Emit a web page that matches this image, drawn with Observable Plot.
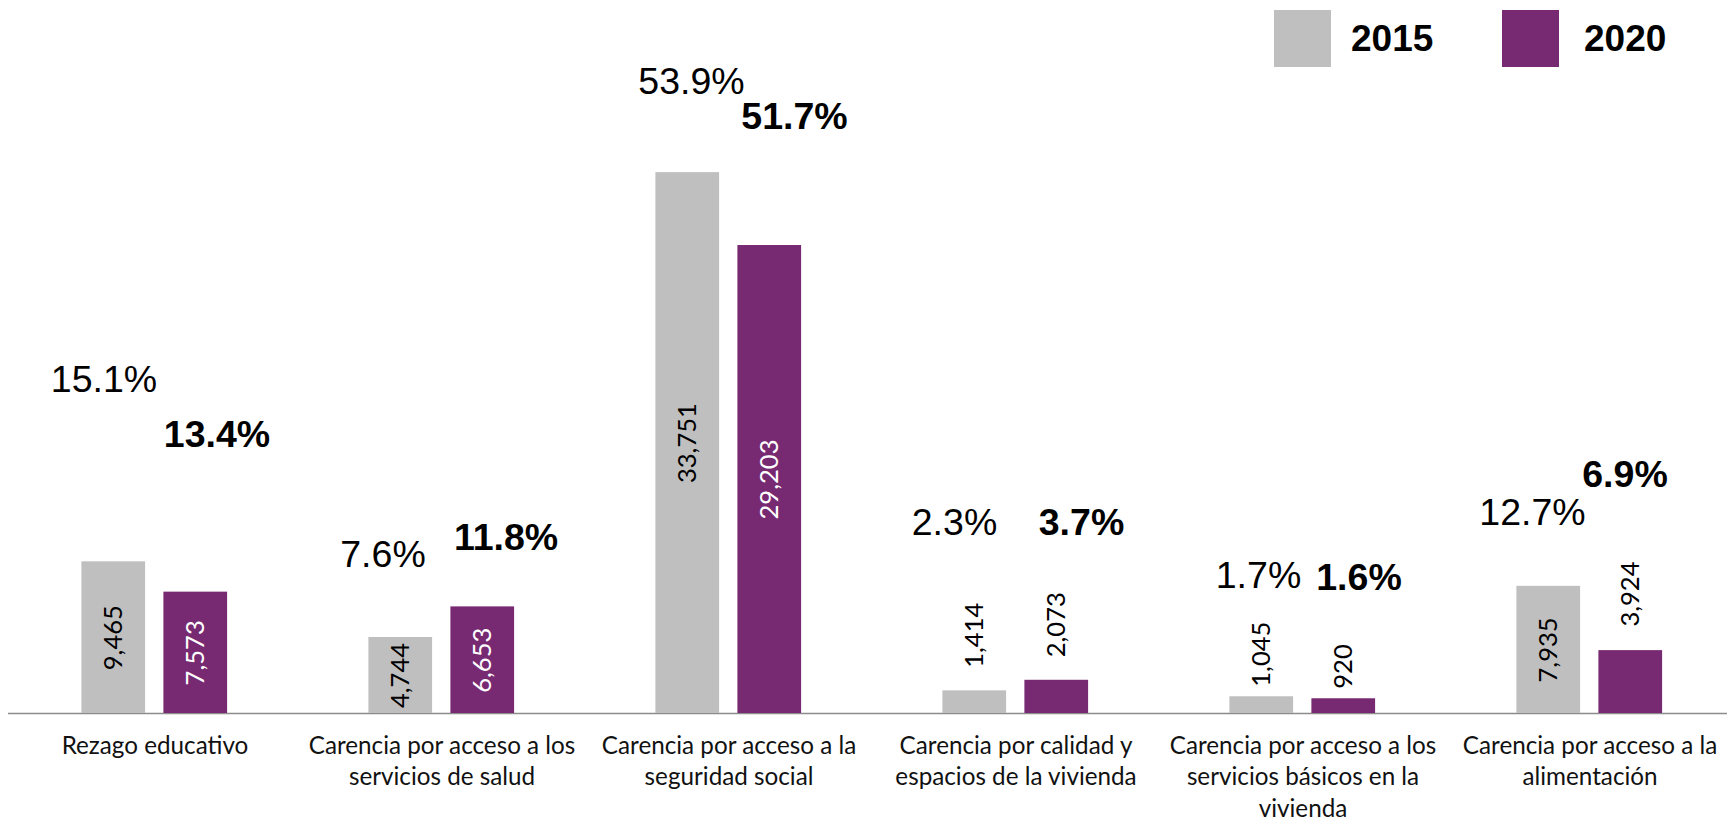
<!DOCTYPE html>
<html>
<head>
<meta charset="utf-8">
<script src="https://cdn.jsdelivr.net/npm/d3@7"></script>
<script src="https://cdn.jsdelivr.net/npm/@observablehq/plot@0.6"></script>
<style>
  html, body { margin: 0; padding: 0; background: white; overflow: hidden; }
  #wrap { position: relative; width: 1727px; height: 824px; }
  #legend { position: absolute; top: 10px; left: 0; width: 1727px; height: 57px; font-family: "Liberation Sans", Arial, sans-serif; font-weight: bold; font-size: 37px; color: #000; }
  #legend .sw { position: absolute; top: 0; width: 57px; height: 57px; }
  #legend .lb { position: absolute; top: 0; height: 57px; display: flex; align-items: center; line-height: 1; }
</style>
</head>
<body>
<div id="wrap">
  <div id="chart"></div>
  <div id="legend"></div>
</div>
<script>
// ---- data ----
const categories = [
  "Rezago educativo",
  "Carencia por acceso a los servicios de salud",
  "Carencia por acceso a la seguridad social",
  "Carencia por calidad y espacios de la vivienda",
  "Carencia por acceso a los servicios básicos en la vivienda",
  "Carencia por acceso a la alimentación"
];
const tickLabels = [
  "Rezago educativo",
  "Carencia por acceso a los\nservicios de salud",
  "Carencia por acceso a la\nseguridad social",
  "Carencia por calidad y\nespacios de la vivienda",
  "Carencia por acceso a los\nservicios básicos en la\nvivienda",
  "Carencia por acceso a la\nalimentación"
];
const years = ["2015", "2020"];
const values2015 = [9465, 4744, 33751, 1414, 1045, 7935];
const values2020 = [7573, 6653, 29203, 2073, 920, 3924];
const pct2015 = [15.1, 7.6, 53.9, 2.3, 1.7, 12.7];
const pct2020 = [13.4, 11.8, 51.7, 3.7, 1.6, 6.9];

// ---- layout / style (not data) ----
const colors = {"2015": "#bfbfbf", "2020": "#772a72"};
// manual placement of the percentage labels (pixel offset from bar top-centre)
const pctNudge2015 = [[-10, -170], [-18, -70], [3.5, -79], [-20.5, -156], [-3.5, -109], [-16.5, -61]];
const pctNudge2020 = [[21, -145], [23, -57], [24.5, -117], [24.5, -145], [15, -109], [-6, -164]];
const outsideGap = [23, 23, 23, 23, 10, 24];
const insideThreshold = 4500;
const subOffset = 41;

// font sizing by measurement
const ctx = document.createElement("canvas").getContext("2d");
function sizeFor(text, font, target) {
  ctx.font = `100px ${font}`;
  const w = ctx.measureText(text).width;
  return w > 0 ? 100 * target / w : 24;
}
const catFamily = "Lato, 'Open Sans', sans-serif";
const catSize = sizeFor("Carencia por acceso a la", catFamily, 255);
const valSize = sizeFor("33,751", catFamily, 80);
const pctFamily = "'Liberation Sans', Arial, sans-serif";

const rows = categories.flatMap((c, i) => [
  {category: c, year: "2015", value: values2015[i], pct: pct2015[i], i},
  {category: c, year: "2020", value: values2020[i], pct: pct2020[i], i}
]);
const fmt = d3.format(",");

const marks = [
  Plot.ruleY([0], {stroke: "#8c8c8c", strokeWidth: 1.3}),
  Plot.barY(rows.filter(d => d.year === "2015"), {x: "category", y: "value", fill: colors["2015"], insetLeft: 70.4, insetRight: 152.9}),
  Plot.barY(rows.filter(d => d.year === "2020"), {x: "category", y: "value", fill: colors["2020"], insetLeft: 152.4, insetRight: 70.9}),
  Plot.axisX({
    tickSize: 0,
    tickPadding: 35 - 0.71 * catSize,
    tickFormat: d => tickLabels[categories.indexOf(d)],
    fontSize: catSize,
    fontFamily: catFamily,
    lineHeight: 31.5 / catSize,
    fill: "#111",
    label: null
  })
];

rows.forEach(r => {
  const inside = r.value >= insideThreshold;
  const side = r.year === "2015" ? -subOffset : subOffset;
  marks.push(Plot.text([r], {
    x: "category",
    y: inside ? d => d.value / 2 : "value",
    text: d => fmt(d.value),
    rotate: -90,
    textAnchor: inside ? "middle" : "start",
    lineAnchor: "middle",
    dx: side,
    dy: inside ? 0 : -outsideGap[r.i],
    fill: inside && r.year === "2020" ? "white" : "black",
    fontSize: valSize,
    fontFamily: catFamily
  }));
  const nudge = (r.year === "2015" ? pctNudge2015 : pctNudge2020)[r.i];
  marks.push(Plot.text([r], {
    x: "category",
    y: "value",
    text: d => d.pct.toFixed(1) + "%",
    textAnchor: "middle",
    lineAnchor: "bottom",
    dx: side + nudge[0],
    dy: nudge[1],
    fill: "black",
    fontSize: 37.5,
    fontFamily: pctFamily,
    fontWeight: r.year === "2020" ? "bold" : "normal"
  }));
});

const chart = Plot.plot({
  width: 1727,
  height: 824,
  marginLeft: 8,
  marginRight: 0,
  marginTop: 72,
  marginBottom: 111,
  x: {type: "band", domain: categories, range: [8.6, 1735.4], padding: 0},
  y: {domain: [0, 40000], axis: null},
  style: {background: "white", fontFamily: catFamily, overflow: "hidden"},
  marks
});
document.getElementById("chart").appendChild(chart);

// legend
const legend = document.getElementById("legend");
const legendPos = {"2015": [1274, 1351], "2020": [1502, 1584]};
years.forEach(y => {
  const sw = document.createElement("div");
  sw.className = "sw";
  sw.style.left = legendPos[y][0] + "px";
  sw.style.background = colors[y];
  legend.appendChild(sw);
  const lb = document.createElement("div");
  lb.className = "lb";
  lb.style.left = legendPos[y][1] + "px";
  lb.textContent = y;
  legend.appendChild(lb);
});
</script>
</body>
</html>
